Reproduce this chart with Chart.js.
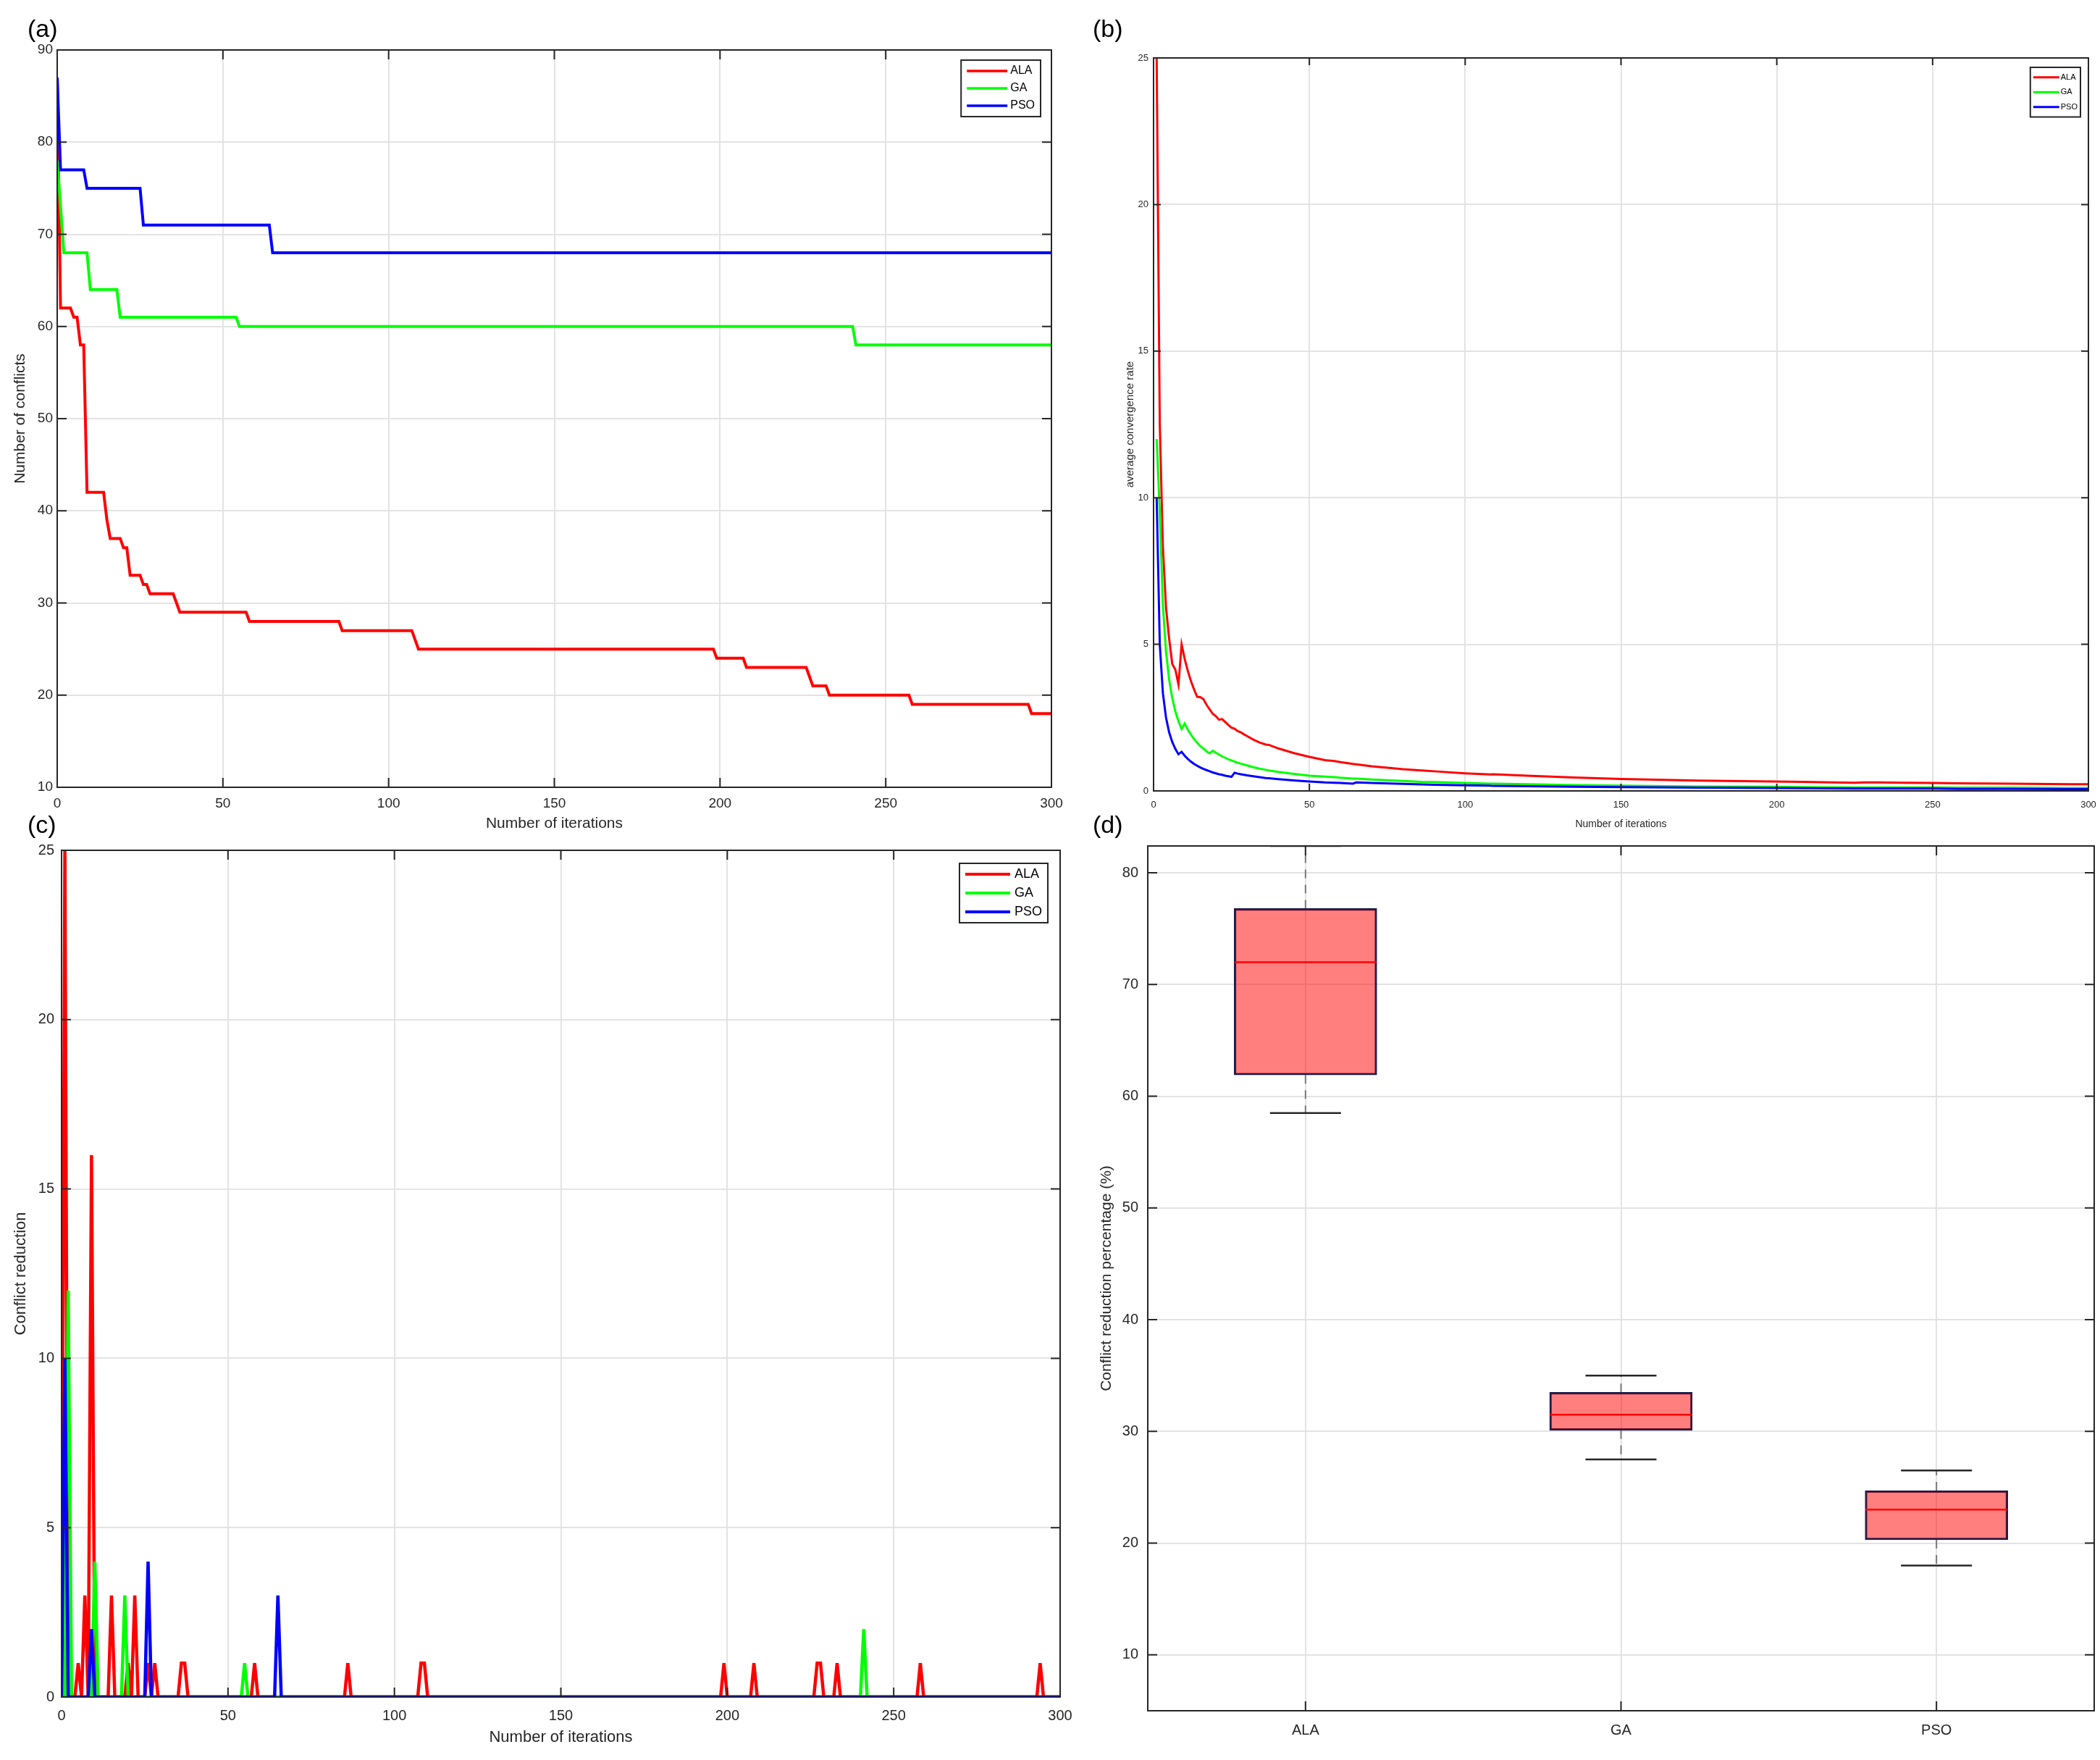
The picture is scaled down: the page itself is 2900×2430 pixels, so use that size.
<!DOCTYPE html>
<html>
<head>
<meta charset="utf-8">
<script src="https://cdn.jsdelivr.net/npm/chart.js@4.4.1/dist/chart.umd.min.js"></script>
<style>
  body { margin: 0; width: 2900px; height: 2430px; background: #fff; position: relative; overflow: hidden; }
  canvas { position: absolute; }
  .tag { position: absolute; font-family: 'Liberation Sans', Arial, sans-serif; font-size: 34px; line-height: 1; color: #000; z-index: 5; }
</style>
</head>
<body>
<div class="tag" style="left:38px;top:22px">(a)</div>
<div class="tag" style="left:1509px;top:22px">(b)</div>
<div class="tag" style="left:38px;top:1121px">(c)</div>
<div class="tag" style="left:1509px;top:1121px">(d)</div>
<canvas id="chartA" width="1480" height="1160" style="left:0;top:0"></canvas>
<canvas id="chartB" width="1420" height="1160" style="left:1480px;top:0"></canvas>
<canvas id="chartC" width="1480" height="1270" style="left:0;top:1160px"></canvas>
<canvas id="chartD" width="1420" height="1270" style="left:1480px;top:1160px"></canvas>
<script>
// ---- data -------------------------------------------------------------
var seriesNames = ['ALA', 'GA', 'PSO'];
var seriesColors = ['#ff0000', '#00ff00', '#0000ff'];
var iterMax = 300;

// (a) number of conflicts, vertices of the step curves
var alaConfX = [0, 1, 4, 5, 6, 7, 8, 9, 14, 15, 16, 19, 20, 21, 22, 25, 26, 27, 28, 35, 36, 37, 57, 58, 85, 86, 107, 108, 109, 198, 199, 207, 208, 226, 227, 228, 232, 233, 257, 258, 293, 294, 300];
var alaConfY = [87, 62, 62, 61, 61, 58, 58, 42, 42, 39, 37, 37, 36, 36, 33, 33, 32, 32, 31, 31, 30, 29, 29, 28, 28, 27, 27, 26, 25, 25, 24, 24, 23, 23, 22, 21, 21, 20, 20, 19, 19, 18, 18];
var gaConfX = [0, 2, 9, 10, 18, 19, 54, 55, 240, 241, 300];
var gaConfY = [78, 68, 68, 64, 64, 61, 61, 60, 60, 58, 58];
var psoConfX = [0, 1, 8, 9, 25, 26, 64, 65, 300];
var psoConfY = [87, 77, 77, 75, 75, 71, 71, 68, 68];

// (b) average convergence rate
var rateIter = [1, 2, 3, 4, 5, 6, 7, 8, 9, 10, 11, 12, 13, 14, 15, 16, 17, 18, 19, 20, 21, 22, 23, 24, 25, 26, 27, 28, 29, 30,
  32, 34, 36, 37, 40, 45, 50, 55, 58, 60, 64, 65, 70, 80, 86, 90, 100, 108, 109, 120, 135, 150, 175, 199, 208, 225, 228, 233, 241, 250, 258, 275, 294, 300];
var alaRate = [25.00, 12.50, 8.33, 6.25, 5.20, 4.33, 4.14, 3.63, 5.00, 4.50, 4.09, 3.75, 3.46, 3.21, 3.20, 3.13, 2.94, 2.78, 2.63, 2.55, 2.43, 2.45, 2.35, 2.25, 2.16, 2.12, 2.04, 2.00, 1.93, 1.87,
  1.75, 1.65, 1.58, 1.57, 1.45, 1.29, 1.16, 1.05, 1.02, 0.98, 0.92, 0.91, 0.84, 0.74, 0.70, 0.67, 0.60, 0.56, 0.57, 0.52, 0.46, 0.41, 0.35, 0.32, 0.31, 0.28, 0.29, 0.29, 0.28, 0.27, 0.26, 0.25, 0.23, 0.23];
var gaRate = [12.00, 9.50, 6.33, 4.75, 3.80, 3.17, 2.71, 2.38, 2.11, 2.30, 2.09, 1.92, 1.77, 1.64, 1.53, 1.44, 1.35, 1.28, 1.37, 1.30, 1.24, 1.18, 1.13, 1.08, 1.04, 1.00, 0.96, 0.93, 0.90, 0.87,
  0.81, 0.76, 0.72, 0.70, 0.65, 0.58, 0.52, 0.49, 0.47, 0.45, 0.42, 0.42, 0.39, 0.34, 0.31, 0.30, 0.27, 0.25, 0.25, 0.23, 0.20, 0.18, 0.15, 0.14, 0.13, 0.12, 0.12, 0.12, 0.12, 0.12, 0.11, 0.11, 0.10, 0.10];
var psoRate = [10.00, 5.00, 3.33, 2.50, 2.00, 1.67, 1.43, 1.25, 1.33, 1.20, 1.09, 1.00, 0.92, 0.86, 0.80, 0.75, 0.71, 0.67, 0.63, 0.60, 0.57, 0.55, 0.52, 0.50, 0.48, 0.62, 0.59, 0.57, 0.55, 0.53,
  0.50, 0.47, 0.44, 0.43, 0.40, 0.36, 0.32, 0.29, 0.28, 0.27, 0.25, 0.29, 0.27, 0.24, 0.22, 0.21, 0.19, 0.18, 0.17, 0.16, 0.14, 0.13, 0.11, 0.10, 0.09, 0.08, 0.08, 0.08, 0.08, 0.08, 0.07, 0.07, 0.06, 0.06];

// (c) conflict reduction per iteration (zero everywhere else)
var alaDropIter = [1, 5, 7, 9, 15, 20, 22, 26, 28, 36, 37, 58, 86, 108, 109, 199, 208, 227, 228, 233, 258, 294];
var alaDropVal = [25, 1, 3, 16, 3, 1, 3, 1, 1, 1, 1, 1, 1, 1, 1, 1, 1, 1, 1, 1, 1, 1];
var gaDropIter = [2, 10, 19, 55, 241];
var gaDropVal = [12, 4, 3, 1, 2];
var psoDropIter = [1, 9, 26, 65];
var psoDropVal = [10, 2, 4, 3];

// (d) box plot of conflict reduction percentage
var boxLabels = ['ALA', 'GA', 'PSO'];
var boxMin = [58.5, 27.5, 18.0];
var boxQ1 = [61.9, 30.1, 20.3];
var boxMedian = [72.0, 31.5, 23.0];
var boxQ3 = [76.8, 33.5, 24.7];
var boxMax = [82.4, 35.0, 26.5];
var boxTicks = [10, 20, 30, 40, 50, 60, 70, 80];

// ---- helpers -----------------------------------------------------------
Chart.defaults.font.family = "'Liberation Sans', Arial, sans-serif";
Chart.defaults.color = '#262626';
Chart.defaults.animation = false;

var gridColor = '#e3e3e3';

function toPoints(xs, ys) {
    var pts = [];
    for (var i = 0; i < xs.length; i++) pts.push({x: xs[i], y: ys[i]});
    return pts;
}

function spikeSeries(iters, vals) {
    var pts = [];
    for (var i = 0; i <= iterMax; i++) pts.push({x: i, y: 0});
    for (var k = 0; k < iters.length; k++) pts[iters[k]].y = vals[k];
    return pts;
}

function fixY(w) {
    return function (scale) { scale.width = w; scale.paddingTop = 0; scale.paddingBottom = 0; };
}
function fixX(h) {
    return function (scale) { scale.height = h; scale.paddingLeft = 0; scale.paddingRight = 0; };
}

// box round the plot plus inward tick marks on all four sides (matlab look)
var frameTicks = {
    id: 'frameTicks',
    afterDatasetsDraw: function (chart, args, o) {
        var a = chart.chartArea, ctx = chart.ctx, len = o.len;
        var xs = chart.scales.x, ys = chart.scales.y;
        ctx.save();
        ctx.strokeStyle = '#262626';
        ctx.lineWidth = 2;
        ctx.beginPath();
        for (var i = 0; i < xs.ticks.length; i++) {
            var px = xs.getPixelForTick(i);
            ctx.moveTo(px, a.bottom); ctx.lineTo(px, a.bottom - len);
            ctx.moveTo(px, a.top); ctx.lineTo(px, a.top + len);
        }
        for (var j = 0; j < ys.ticks.length; j++) {
            var py = ys.getPixelForTick(j);
            ctx.moveTo(a.left, py); ctx.lineTo(a.left + len, py);
            ctx.moveTo(a.right, py); ctx.lineTo(a.right - len, py);
        }
        ctx.stroke();
        ctx.strokeRect(a.left, a.top, a.right - a.left, a.bottom - a.top);
        ctx.restore();
    }
};

// legend box inside the top right corner of the plot
var insideLegend = {
    id: 'insideLegend',
    afterDraw: function (chart, args, o) {
        if (!o.size) return;
        var a = chart.chartArea, ctx = chart.ctx, sets = chart.data.datasets;
        ctx.save();
        ctx.font = o.size + "px 'Liberation Sans', Arial, sans-serif";
        var tw = 0;
        sets.forEach(function (d) { tw = Math.max(tw, ctx.measureText(d.label).width); });
        var w = o.pad + o.lineLen + o.gap + tw + o.pad;
        var h = sets.length * o.rowH + 2 * o.padY;
        var x0 = a.right - o.right - w, y0 = a.top + o.top;
        ctx.fillStyle = '#fff';
        ctx.fillRect(x0, y0, w, h);
        ctx.strokeStyle = '#262626';
        ctx.lineWidth = 2;
        ctx.strokeRect(x0, y0, w, h);
        sets.forEach(function (d, i) {
            var cy = y0 + o.padY + o.rowH * (i + 0.5);
            ctx.strokeStyle = d.borderColor;
            ctx.lineWidth = o.lw;
            ctx.beginPath();
            ctx.moveTo(x0 + o.pad, cy);
            ctx.lineTo(x0 + o.pad + o.lineLen, cy);
            ctx.stroke();
            ctx.fillStyle = '#000';
            ctx.textBaseline = 'middle';
            ctx.fillText(d.label, x0 + o.pad + o.lineLen + o.gap, cy);
        });
        ctx.restore();
    }
};

function lineSets(pointLists, width) {
    return pointLists.map(function (pts, i) {
        return {
            label: seriesNames[i],
            data: pts,
            borderColor: seriesColors[i],
            backgroundColor: seriesColors[i],
            borderWidth: width,
            pointRadius: 0,
            tension: 0,
            order: 3 - i
        };
    });
}

function makeLineChart(id, datasets, c) {
    var ctx = document.getElementById(id).getContext('2d');
    return new Chart(ctx, {
        type: 'line',
        data: {datasets: datasets},
        options: {
            responsive: false,
            events: [],
            layout: {padding: c.pad, autoPadding: false},
            plugins: {
                legend: {display: false},
                tooltip: {enabled: false},
                frameTicks: {len: c.tickLen},
                insideLegend: c.legend
            },
            scales: {
                x: {
                    type: 'linear', min: 0, max: iterMax,
                    ticks: {stepSize: 50, padding: c.xPad, font: {size: c.tickSize}},
                    grid: {color: gridColor, lineWidth: 2, drawTicks: false},
                    border: {display: false},
                    title: {display: true, text: 'Number of iterations', padding: 0, font: {size: c.xTitleSize}},
                    afterFit: fixX(c.xH)
                },
                y: {
                    type: 'linear', min: c.yMin, max: c.yMax,
                    ticks: {stepSize: c.yStep, padding: c.yPad, font: {size: c.tickSize}},
                    grid: {color: gridColor, lineWidth: 2, drawTicks: false},
                    border: {display: false},
                    title: {display: true, text: c.yTitle, padding: 0, font: {size: c.yTitleSize}},
                    afterFit: fixY(c.yW)
                }
            }
        },
        plugins: [frameTicks, insideLegend]
    });
}

// ---- (a) ---------------------------------------------------------------
makeLineChart('chartA',
    lineSets([toPoints(alaConfX, alaConfY), toPoints(gaConfX, gaConfY), toPoints(psoConfX, psoConfY)], 4),
    {
        pad: {left: 16, top: 69, right: 28, bottom: 10}, yW: 63, xH: 63,
        yMin: 10, yMax: 90, yStep: 10, yTitle: 'Number of conflicts',
        tickSize: 19, xTitleSize: 21, yTitleSize: 21, xPad: 11, yPad: 6, tickLen: 13,
        legend: {size: 16, pad: 8, lineLen: 56, gap: 4, rowH: 24, padY: 3, right: 15, top: 14, lw: 3.5}
    });

// ---- (b) ---------------------------------------------------------------
makeLineChart('chartB',
    lineSets([toPoints(rateIter, alaRate), toPoints(rateIter, gaRate), toPoints(rateIter, psoRate)], 3),
    {
        pad: {left: 72, top: 80, right: 16, bottom: 13}, yW: 41, xH: 55,
        yMin: 0, yMax: 25, yStep: 5, yTitle: 'average convergence rate',
        tickSize: 13, xTitleSize: 14, yTitleSize: 15, xPad: 12, yPad: 7, tickLen: 10,
        legend: {size: 11, pad: 4, lineLen: 36, gap: 2, rowH: 20.5, padY: 3.5, right: 11, top: 13, lw: 3}
    });

// ---- (c) ---------------------------------------------------------------
makeLineChart('chartC',
    lineSets([spikeSeries(alaDropIter, alaDropVal), spikeSeries(gaDropIter, gaDropVal), spikeSeries(psoDropIter, psoDropVal)], 4.5),
    {
        pad: {left: 16, top: 14, right: 16, bottom: 18}, yW: 69, xH: 69,
        yMin: 0, yMax: 25, yStep: 5, yTitle: 'Conflict reduction',
        tickSize: 20, xTitleSize: 22, yTitleSize: 22, xPad: 14, yPad: 10, tickLen: 13,
        legend: {size: 18, pad: 8, lineLen: 62, gap: 6, rowH: 26, padY: 2, right: 17, top: 18, lw: 4}
    });

// ---- (d) box plot ------------------------------------------------------
function drawBoxPlot() {
    var boxes = boxLabels.map(function (l, i) { return [boxQ1[i], boxQ3[i]]; });
    var stems = [];
    boxLabels.forEach(function (l, i) {
        stems.push({x: l, y: boxQ3[i]}, {x: l, y: boxMax[i]}, {x: l, y: null});
        stems.push({x: l, y: boxQ1[i]}, {x: l, y: boxMin[i]}, {x: l, y: null});
    });
    var caps = [];
    boxLabels.forEach(function (l, i) {
        caps.push({x: l, y: boxMax[i]}, {x: l, y: boxMin[i]});
    });
    var medians = boxLabels.map(function (l, i) { return {x: l, y: boxMedian[i]}; });

    var ctx = document.getElementById('chartD').getContext('2d');
    new Chart(ctx, {
        type: 'bar',
        data: {
            labels: boxLabels,
            datasets: [
                {type: 'line', data: stems, borderColor: '#7a7a7a', borderWidth: 2, borderDash: [12, 9],
                    pointRadius: 0, spanGaps: false, order: 4},
                {type: 'bar', data: boxes, backgroundColor: 'rgba(255,0,0,0.5)', borderColor: '#1c1c4c',
                    borderWidth: 2.5, borderSkipped: false, barThickness: 197, order: 3},
                {type: 'line', data: caps, showLine: false, pointStyle: 'line', pointRadius: 49,
                    pointBorderWidth: 2.5, pointBorderColor: '#262626', order: 2},
                {type: 'line', data: medians, showLine: false, pointStyle: 'line', pointRadius: 98,
                    pointBorderWidth: 2.5, pointBorderColor: '#ff0000', order: 1}
            ]
        },
        options: {
            responsive: false,
            events: [],
            layout: {padding: {left: 36, top: 8, right: 8, bottom: 28}, autoPadding: false},
            plugins: {
                legend: {display: false},
                tooltip: {enabled: false},
                frameTicks: {len: 13}
            },
            scales: {
                x: {
                    type: 'category', offset: true,
                    ticks: {padding: 15, font: {size: 20}},
                    grid: {color: gridColor, lineWidth: 2, drawTicks: false, offset: false},
                    border: {display: false},
                    afterFit: fixX(40)
                },
                y: {
                    type: 'linear', min: 5, max: 82.4,
                    ticks: {padding: 13, font: {size: 20}},
                    afterBuildTicks: function (scale) {
                        scale.ticks = boxTicks.map(function (v) { return {value: v}; });
                    },
                    grid: {color: gridColor, lineWidth: 2, drawTicks: false},
                    border: {display: false},
                    title: {display: true, text: 'Conflict reduction percentage (%)', padding: 0, font: {size: 21}},
                    afterFit: fixY(69)
                }
            }
        },
        plugins: [frameTicks]
    });
}

drawBoxPlot();
</script>
</body>
</html>
